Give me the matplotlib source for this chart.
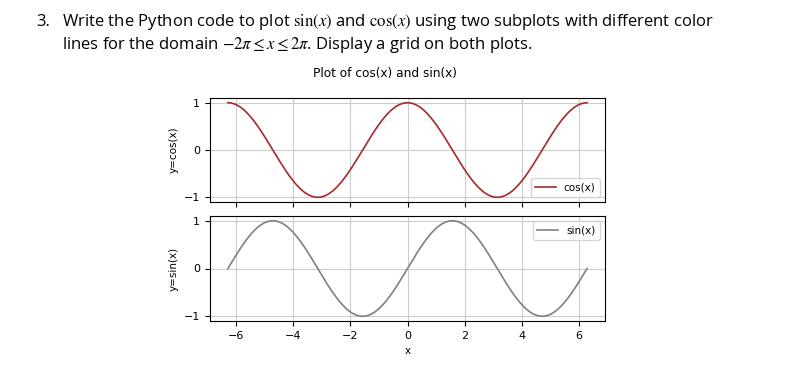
import numpy as np
import matplotlib.pyplot as plt

plt.rcParams['mathtext.fontset'] = 'stix'

# question text from the document
line1 = r"Write the Python code to plot $\sin(x)$ and $\cos(x)$ using two subplots with different color"
line2 = r"lines for the domain $-2\pi \leq x \leq 2\pi$. Display a grid on both plots."

# data
x = np.linspace(-2 * np.pi, 2 * np.pi, 200)
y_cos = np.cos(x)
y_sin = np.sin(x)
y_ticks = [-1, 0, 1]

fig = plt.figure(figsize=(8.02, 3.72), dpi=100)

fig.text(36 / 802, 1 - 22 / 372, "3.", fontsize=12, family='Open Sans', va='center')
fig.text(62 / 802, 1 - 22 / 372, line1, fontsize=12, family='Open Sans', va='center')
fig.text(62 / 802, 1 - 45 / 372, line2, fontsize=12, family='Open Sans', va='center')

ax1 = fig.add_axes([210 / 802, 1 - 202 / 372, 395 / 802, 104 / 372])
ax2 = fig.add_axes([210 / 802, 1 - 321 / 372, 395 / 802, 105 / 372], sharex=ax1)

fig.text(385 / 802, 1 - 73 / 372, "Plot of cos(x) and sin(x)", fontsize=8.7, ha='center', va='center')

ax1.plot(x, y_cos, color='brown', lw=1.2, label='cos(x)')
ax1.set_ylabel('y=cos(x)', fontsize=7.5)
ax1.set_yticks(y_ticks)
ax1.legend(loc='lower right', fontsize=7.5)
ax1.grid(True, color='#cccccc')
ax1.tick_params(labelbottom=False, labelsize=8)

ax2.plot(x, y_sin, color='grey', lw=1.2, label='sin(x)')
ax2.set_ylabel('y=sin(x)', fontsize=7.5)
ax2.set_xlabel('x', fontsize=7.5)
ax2.set_yticks(y_ticks)
ax2.legend(loc='upper right', fontsize=7.5)
ax2.grid(True, color='#cccccc')
ax2.tick_params(labelsize=8)

plt.savefig('out.png', dpi=100)
